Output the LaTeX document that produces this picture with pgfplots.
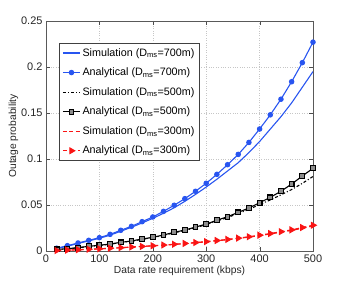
\documentclass[border=0pt]{standalone}
\usepackage{pgfplots}
\pgfplotsset{compat=1.18}
\usepackage{fontspec}
\setmainfont{Liberation Sans}
\definecolor{mblue}{RGB}{40,85,240}
\definecolor{mred}{RGB}{250,20,20}
\begin{document}
\begin{tikzpicture}
\begin{axis}[name=ax,
  scale only axis, width=267bp, height=230bp,
  xmin=0, xmax=500, ymin=0, ymax=0.25,
  xtick={0,100,...,500}, ytick={0,0.05,0.1,0.15,0.2,0.25},
  yticklabels={0,0.05,0.1,0.15,0.2,0.25},
  grid=major, grid style={dotted, gray!45, line width=0.5pt},
  axis line style={black!65, line width=0.8pt},
  tick style={black!70}, tick align=inside,
  tick label style={font=\fontsize{11}{12}\selectfont, text=black!85},
  /pgf/number format/assume math mode=true,
  xlabel={Data rate requirement (kbps)}, ylabel={Outage probability},
  label style={font=\fontsize{10.3}{12}\selectfont, text=black!85},
  xlabel style={yshift=3pt}, ylabel style={yshift=-4pt},
  legend style={at={(0.049,0.904)}, anchor=north west, font=\fontsize{10.8}{12}\selectfont,
    draw=black!75, line width=0.6pt, inner sep=3pt, row sep=6.3pt},
  legend cell align=left,
  every axis plot/.append style={line width=1.1pt},
]
% blue simulation
\addplot[mblue, no marks] coordinates {
(20,0.0025)(40,0.0052)(60,0.0082)(80,0.011)(100,0.0138)(120,0.0172)(140,0.0215)(160,0.0258)(180,0.0305)(200,0.0355)(220,0.041)(240,0.047)(260,0.054)(280,0.0615)(300,0.0695)(320,0.078)(340,0.087)(360,0.096)(380,0.107)(400,0.119)(420,0.1325)(440,0.146)(460,0.161)(480,0.178)(500,0.195)};
\addlegendentry{Simulation (D\textsubscript{ms}=700m)}
% blue analytical
\addplot[mblue, mark=*, mark size=2.2pt] coordinates {
(20,0.003)(40,0.0058)(60,0.0087)(80,0.0116)(100,0.0145)(120,0.0181)(140,0.0225)(160,0.0268)(180,0.0319)(200,0.037)(220,0.0431)(240,0.0497)(260,0.0569)(280,0.0649)(300,0.0736)(320,0.0833)(340,0.0938)(360,0.105)(380,0.118)(400,0.1326)(420,0.148)(440,0.165)(460,0.184)(480,0.2047)(500,0.227)};
\addlegendentry{Analytical (D\textsubscript{ms}=700m)}
% black simulation
\addplot[black, dash dot, no marks] coordinates {
(20,0.0016)(40,0.0024)(60,0.0035)(80,0.0049)(100,0.006)(120,0.0074)(140,0.0092)(160,0.0106)(180,0.0127)(200,0.0146)(220,0.017)(240,0.0198)(260,0.0223)(280,0.0254)(300,0.0287)(320,0.0326)(340,0.0364)(360,0.0408)(380,0.0452)(400,0.0505)(420,0.0555)(440,0.061)(460,0.0668)(480,0.0735)(500,0.081)};
\addlegendentry{Simulation (D\textsubscript{ms}=500m)}
% black analytical
\addplot[black, mark=square*, mark size=2.4pt, mark options={fill=black!45}] coordinates {
(20,0.0017)(40,0.0025)(60,0.0036)(80,0.0051)(100,0.0062)(120,0.0076)(140,0.0094)(160,0.0109)(180,0.013)(200,0.0149)(220,0.0174)(240,0.0203)(260,0.0228)(280,0.026)(300,0.0293)(320,0.0334)(340,0.0373)(360,0.042)(380,0.0467)(400,0.0525)(420,0.0583)(440,0.0649)(460,0.0728)(480,0.0815)(500,0.0899)};
\addlegendentry{Analytical (D\textsubscript{ms}=500m)}
% red simulation
\addplot[color=mred, dash pattern=on 4.5pt off 3pt, no marks,
  legend image code/.code={\draw[draw=mred, line width=1.2pt, dash pattern=on 4pt off 2.5pt] (0cm,0cm) -- (0.6cm,0cm);}] coordinates {
(20,0.0005)(40,0.0009)(60,0.0013)(80,0.0018)(100,0.0023)(120,0.0029)(140,0.0035)(160,0.0042)(180,0.0049)(200,0.0056)(220,0.0063)(240,0.0071)(260,0.008)(280,0.009)(300,0.0099)(320,0.0111)(340,0.0123)(360,0.0137)(380,0.0151)(400,0.0167)(420,0.0185)(440,0.0204)(460,0.0224)(480,0.0247)(500,0.0272)};
\addlegendentry{Simulation (D\textsubscript{ms}=300m)}
% red analytical
\addplot[color=mred, dash pattern=on 4.5pt off 3pt, mark=triangle*, mark size=3.2pt, mark options={solid, rotate=-90}] coordinates {
(20,0.0005)(40,0.001)(60,0.0014)(80,0.0019)(100,0.0024)(120,0.003)(140,0.0036)(160,0.0043)(180,0.005)(200,0.0057)(220,0.0065)(240,0.0073)(260,0.0082)(280,0.0092)(300,0.0102)(320,0.0114)(340,0.0126)(360,0.014)(380,0.0155)(400,0.0172)(420,0.019)(440,0.021)(460,0.023)(480,0.0255)(500,0.028)};
\addlegendentry{Analytical (D\textsubscript{ms}=300m)}
\end{axis}
\path[use as bounding box] ([xshift=-46bp, yshift=-31bp]ax.south west) rectangle ([xshift=33bp, yshift=21bp]ax.north east);
\end{tikzpicture}
\end{document}
